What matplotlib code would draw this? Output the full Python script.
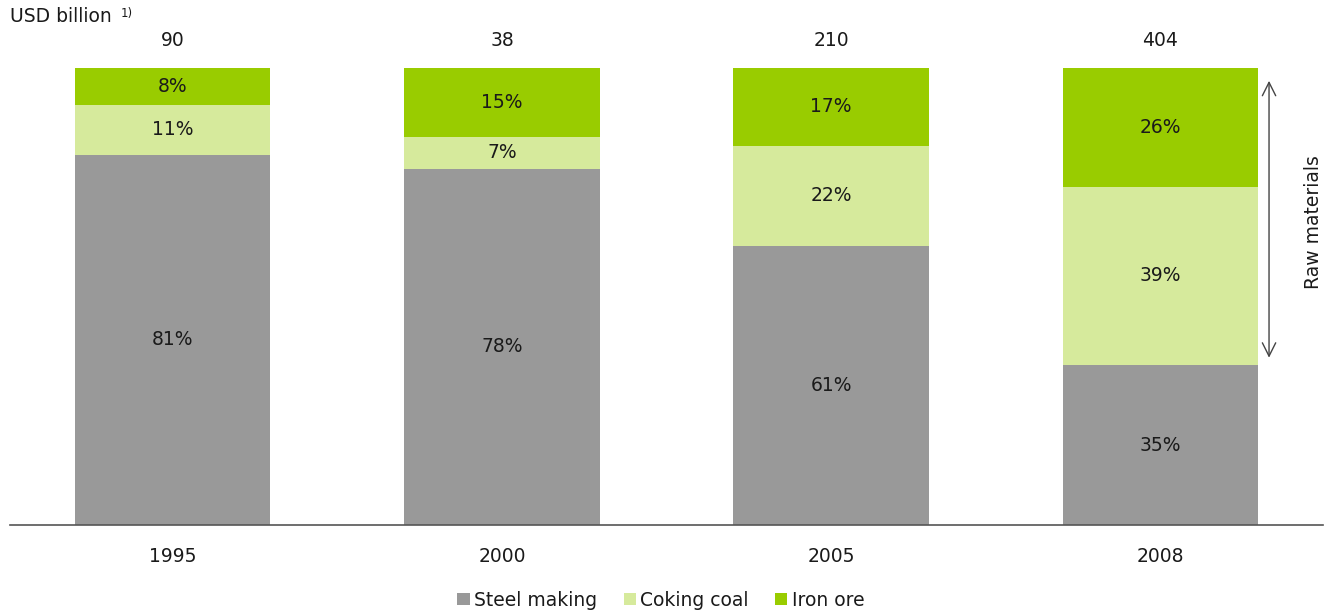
import matplotlib.pyplot as plt
import numpy as np

years = ['1995', '2000', '2005', '2008']
totals = [90, 38, 210, 404]
steel = [81, 78, 61, 35]
coking = [11, 7, 22, 39]
iron = [8, 15, 17, 26]
series_names = ['Steel making', 'Coking coal', 'Iron ore']
colors = ['#999999', '#d6ea9c', '#99cc00']

plt.rcParams['font.family'] = ['DejaVu Sans']
fs = 13.5

fig = plt.figure(figsize=(13.29, 6.12), dpi=100)
ax = fig.add_axes([10 / 1329, 87 / 612, 1313 / 1329, 457 / 612])

x = np.arange(len(years))
w = 0.593
bottom = np.zeros(len(years))
for vals, name, c in zip([steel, coking, iron], series_names, colors):
    ax.bar(x, vals, w, bottom=bottom, color=c, label=name)
    for xi, b, v in zip(x, bottom, vals):
        ax.text(xi, b + v / 2, f'{v}%', ha='center', va='center', fontsize=fs, color='#1a1a1a')
    bottom += np.array(vals)

for xi, t, top in zip(x, totals, bottom):
    ax.annotate(str(t), (xi, top), xytext=(0, 13), textcoords='offset points',
                ha='center', va='bottom', fontsize=fs, color='#1a1a1a', annotation_clip=False)

ax.set_xlim(-0.495, 3.495)
ax.set_ylim(0, 100)
ax.set_xticks(x)
ax.set_xticklabels(years, fontsize=fs, color='#1a1a1a')
ax.tick_params(axis='x', length=0, pad=16)
ax.set_yticks([])
for s in ['top', 'left', 'right']:
    ax.spines[s].set_visible(False)
ax.spines['bottom'].set_color('#555555')
ax.spines['bottom'].set_linewidth(1.2)

# raw materials arrow
ax.annotate('', xy=(3.331, 97.8), xytext=(3.331, 36.0),
            arrowprops=dict(arrowstyle='<->', color='#444444', lw=1, mutation_scale=24),
            annotation_clip=False)
ax.text(3.467, 66.3, 'Raw materials', rotation=90, ha='center', va='center',
        fontsize=fs, color='#1a1a1a', clip_on=False)

fig.text(10 / 1329, 1 - 17 / 612, 'USD billion', fontsize=fs, color='#1a1a1a', va='center', ha='left')
fig.text(121 / 1329, 1 - 13 / 612, '1)', fontsize=8.5, color='#1a1a1a', va='center', ha='left')

leg = fig.legend(loc='center', bbox_to_anchor=(661 / 1329, 1 - 600 / 612), ncol=3,
                 frameon=False, fontsize=fs, handlelength=0.65, handleheight=0.65,
                 handletextpad=0.25, columnspacing=1.4)
for t in leg.get_texts():
    t.set_color('#1a1a1a')

fig.savefig('out.png', dpi=100)
